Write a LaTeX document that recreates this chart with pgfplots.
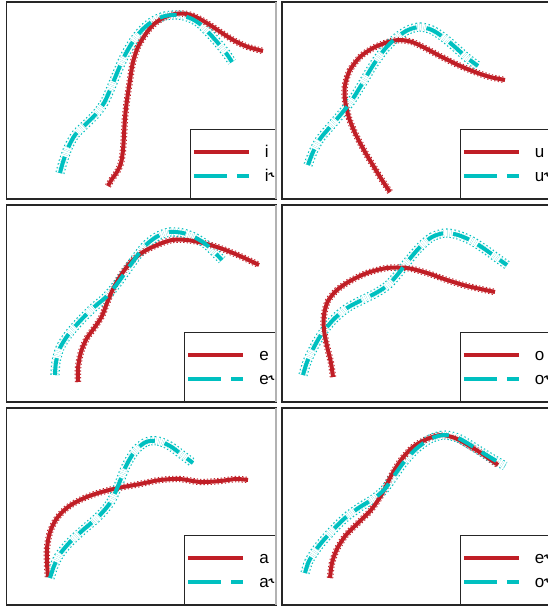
\documentclass[border=0pt]{standalone}
\usepackage{pgfplots}
\pgfplotsset{compat=1.18}
\usepackage{fontspec}
\setmainfont{Liberation Sans}
\newfontfamily\hookfont{DejaVu Sans}
\newcommand{\rh}{{\hookfont\char"02DE}}
\definecolor{redc}{RGB}{192,30,38}
\definecolor{cyanc}{RGB}{0,192,192}
\pgfplotsset{
  panel/.style={width=269.5pt,height=197pt,scale only axis,y dir=reverse,
    ticks=none,axis line style={black!85,line width=1.2pt},clip=true,
    legend image code/.code={\path (0pt,0pt) -- (16pt,0pt); \draw[##1] (16pt,0pt) -- (55pt,0pt);},
    legend style={at={(1,0)},anchor=south east,draw=black!85,line width=0.8pt,fill=white,
      inner xsep=1.5pt,inner ysep=17pt,row sep=13pt,column sep=14pt,
      font=\fontsize{17}{19}\selectfont,
      nodes={inner sep=0pt,text height=11pt,text depth=0pt}},
    legend cell align=left},
  L/.style={panel,xmin=6.5,xmax=276},
  R/.style={panel,xmin=282,xmax=551.5},
  rl/.style={redc,line width=4pt,smooth},
  cl/.style={cyanc,line width=4pt,smooth,dash pattern=on 17pt off 10pt},
  rb/.style={forget plot,redc,smooth,line width=1pt,double=white,double distance=4.4pt,dash pattern=on 1.3pt off 2.2pt},
  cb/.style={forget plot,cyanc,smooth,line width=1.1pt,double=white,double distance=7pt,dash pattern=on 1.4pt off 2.4pt},
}
\pgfplotstableread{
x y
108 186
112 179
117 172
121 163
123 150
124 135
125 118
127 100
130 80
133 62
138 47
145 35
153 25
163 18
175 14
187 14
198 18
210 25
222 33
235 41
248 47
263 51
}\Ai
\pgfplotstableread{
x y
60 173
63 162
68 148
75 135
85 125
96 114
104 103
110 90
117 73
124 57
132 43
142 30
153 21
165 16
178 15
190 18
200 24
209 33
218 43
226 53
232 62
}\Bi
\pgfplotstableread{
x y
390 192
382 180
374 167
365 152
356 135
349 118
345 100
345 85
350 70
360 57
373 48
388 42
400 40
412 42
425 48
440 56
458 65
475 72
490 77
505 80
}\Au
\pgfplotstableread{
x y
308 165
313 152
320 139
330 127
342 113
352 100
362 84
372 67
384 50
396 38
408 30
420 27
432 30
443 37
455 47
466 57
478 66
}\Bu
\pgfplotstableread{
x y
78 382
78 368
81 352
87 338
95 327
102 316
107 303
113 289
121 275
131 262
143 252
157 245
172 240
187 240
203 243
220 248
240 256
259 265
}\Ae
\pgfplotstableread{
x y
55 375
56 362
60 348
68 335
80 321
93 308
106 297
117 284
127 270
137 256
147 244
158 236
170 232
183 233
196 238
208 246
222 260
}\Be
\pgfplotstableread{
x y
333 377
331 363
327 346
324 330
324 315
328 301
337 290
350 281
367 273
387 268
407 268
427 273
447 280
467 286
495 292
}\Ao
\pgfplotstableread{
x y
303 375
307 362
313 349
321 335
333 320
347 308
362 300
376 293
388 285
398 274
408 261
420 247
432 237
445 233
458 235
472 241
486 250
497 258
507 265
}\Bo
\pgfplotstableread{
x y
48 577
47 563
47 548
50 532
57 518
68 507
82 499
98 493
118 488
140 484
160 480
180 479
200 482
220 481
236 479
248 480
}\Aa
\pgfplotstableread{
x y
50 578
54 566
60 554
70 542
83 530
98 517
110 503
118 486
126 466
135 451
146 442
158 441
170 446
181 454
193 463
}\Ba
\pgfplotstableread{
x y
330 578
332 563
337 549
346 535
358 523
371 510
382 494
391 476
401 460
413 447
427 439
441 435
455 438
468 445
481 453
498 465
}\Aer
\pgfplotstableread{
x y
305 573
309 561
318 547
330 533
345 518
360 507
373 499
384 490
394 476
404 462
416 449
430 439
444 435
458 438
472 446
488 456
505 466
}\Bor
\begin{document}
\begin{tikzpicture}
\useasboundingbox (0pt,0pt) rectangle (548pt,-608pt);
\clip (0pt,0pt) rectangle (548pt,-608pt);
% row 1
\begin{axis}[L,at={(6.5pt,-2pt)},anchor=north west,ymin=2,ymax=199]
\addplot[rb] table {\Ai};
\addplot[cb] table {\Bi};
\addplot[rl] table {\Ai};
\addplot[cl] table {\Bi};
\legend{i,i\rh}
\end{axis}
\begin{axis}[R,at={(282pt,-2pt)},anchor=north west,ymin=2,ymax=199]
\addplot[rb] table {\Au};
\addplot[cb] table {\Bu};
\addplot[rl] table {\Au};
\addplot[cl] table {\Bu};
\legend{u,u\rh}
\end{axis}
% row 2
\begin{axis}[L,at={(6.5pt,-205pt)},anchor=north west,ymin=205,ymax=402]
\addplot[rb] table {\Ae};
\addplot[cb] table {\Be};
\addplot[rl] table {\Ae};
\addplot[cl] table {\Be};
\legend{e,e\rh}
\end{axis}
\begin{axis}[R,at={(282pt,-205pt)},anchor=north west,ymin=205,ymax=402]
\addplot[rb] table {\Ao};
\addplot[cb] table {\Bo};
\addplot[rl] table {\Ao};
\addplot[cl] table {\Bo};
\legend{o,o\rh}
\end{axis}
% row 3
\begin{axis}[L,at={(6.5pt,-408pt)},anchor=north west,ymin=408,ymax=605]
\addplot[rb] table {\Aa};
\addplot[cb] table {\Ba};
\addplot[rl] table {\Aa};
\addplot[cl] table {\Ba};
\legend{a,a\rh}
\end{axis}
\begin{axis}[R,at={(282pt,-408pt)},anchor=north west,ymin=408,ymax=605]
\addplot[rb] table {\Aer};
\addplot[cb] table {\Bor};
\addplot[rl] table {\Aer};
\addplot[cl] table {\Bor};
\legend{e\rh,o\rh}
\end{axis}
\draw[black!30,line width=1.4pt] (276pt,-2pt) -- (276pt,-199pt);
\draw[black!30,line width=1.4pt] (276pt,-205pt) -- (276pt,-402pt);
\draw[black!30,line width=1.4pt] (276pt,-408pt) -- (276pt,-605pt);
\end{tikzpicture}
\end{document}
